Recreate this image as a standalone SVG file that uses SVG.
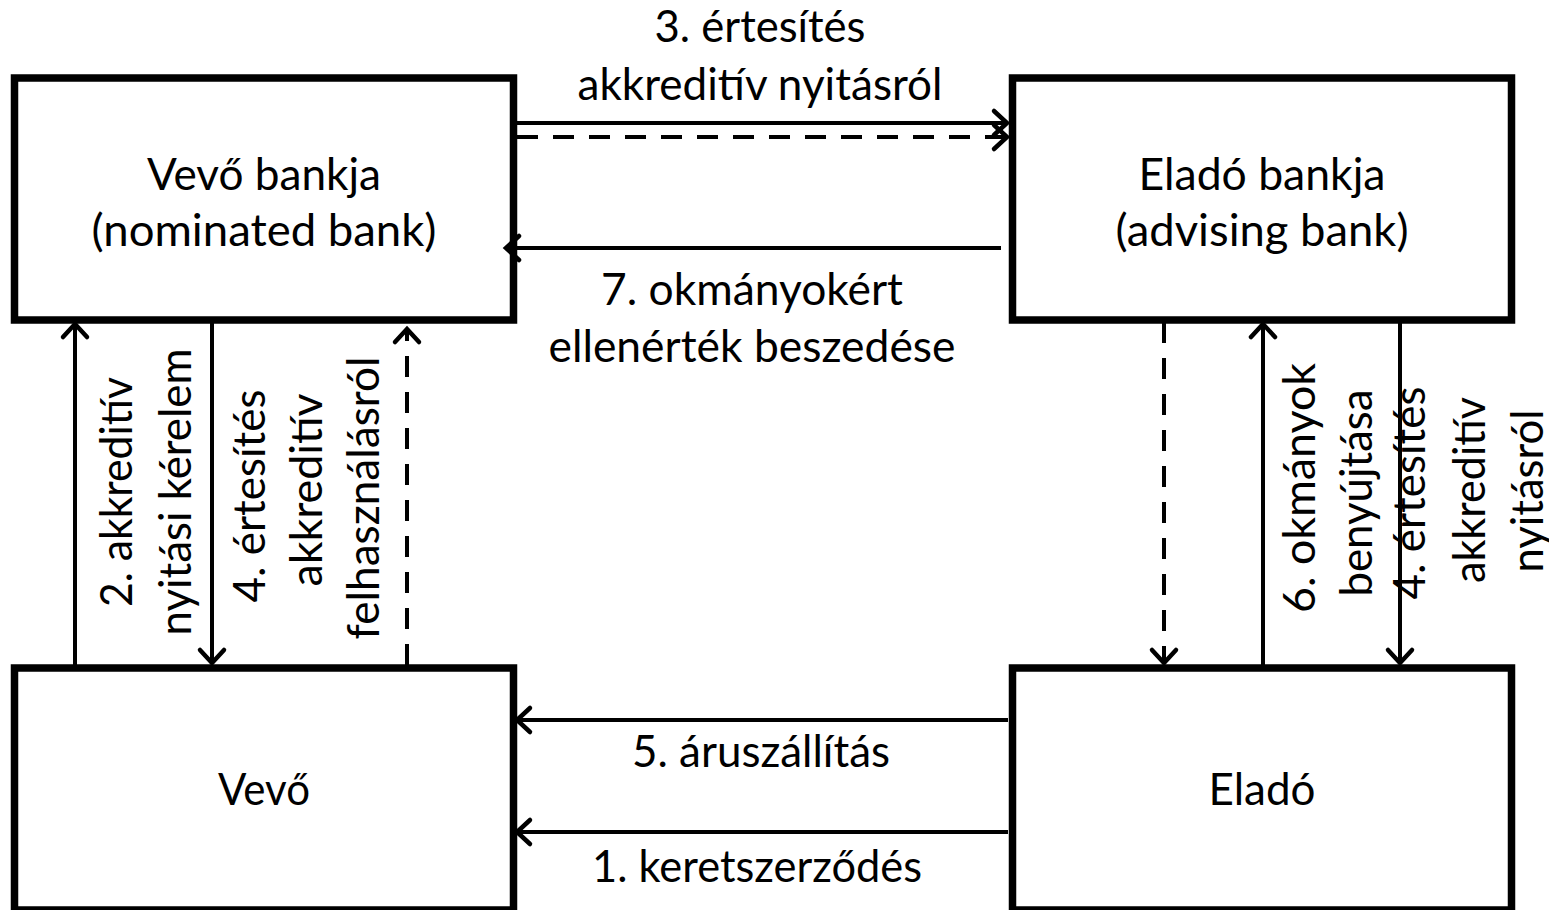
<svg xmlns="http://www.w3.org/2000/svg" width="1549" height="910" viewBox="0 0 1549 910">
  <style>
    .box { fill: #ffffff; stroke: #000000; stroke-width: 7.5; }
    .lbl { font-family: Lato, "Open Sans", "Liberation Sans", sans-serif; font-size: 44px; fill: #000000; text-anchor: middle; }
    .conn { fill: none; stroke: #000000; stroke-width: 4; }
    .dash { stroke-dasharray: 21 15; }
  </style>
  <defs>
    <marker id="head" markerUnits="userSpaceOnUse" viewBox="-18 -16 22 32" refX="0" refY="0" markerWidth="22" markerHeight="32" orient="auto" overflow="visible">
      <path d="M-13,-12 L0,0 L-13,12" fill="none" stroke="#000000" stroke-width="4.5" stroke-linecap="round" stroke-linejoin="miter"/>
    </marker>
  </defs>

  <!-- parties and banks -->
  <g id="node-vevo-bankja">
    <rect class="box" x="14.5" y="78" width="499" height="242"/>
    <text class="lbl" x="264" y="190" textLength="234" lengthAdjust="spacingAndGlyphs">Vevő bankja</text>
    <text class="lbl" x="264" y="246" textLength="345" lengthAdjust="spacingAndGlyphs">(nominated bank)</text>
  </g>
  <g id="node-elado-bankja">
    <rect class="box" x="1012.5" y="78" width="499" height="242"/>
    <text class="lbl" x="1262" y="190" textLength="247" lengthAdjust="spacingAndGlyphs">Eladó bankja</text>
    <text class="lbl" x="1262" y="246" textLength="293" lengthAdjust="spacingAndGlyphs">(advising bank)</text>
  </g>
  <g id="node-vevo">
    <rect class="box" x="14.5" y="668" width="499" height="242"/>
    <text class="lbl" x="264" y="805" textLength="92" lengthAdjust="spacingAndGlyphs">Vevő</text>
  </g>
  <g id="node-elado">
    <rect class="box" x="1012.5" y="668" width="499" height="242"/>
    <text class="lbl" x="1262" y="805" textLength="107" lengthAdjust="spacingAndGlyphs">Eladó</text>
  </g>

  <!-- flows between the parties -->
  <g id="connectors">
    <path class="conn" d="M517,123 L1007,123" marker-end="url(#head)"/>
    <path class="conn dash" d="M517,137 L1007,137" marker-end="url(#head)"/>
    <path class="conn" d="M1001,248 L506,248" marker-end="url(#head)"/>
    <path class="conn" d="M1008,720 L517,720" marker-end="url(#head)"/>
    <path class="conn" d="M1008,832 L517,832" marker-end="url(#head)"/>

    <path class="conn" d="M75,665 L75,324" marker-end="url(#head)"/>
    <path class="conn" d="M212,320 L212,663" marker-end="url(#head)"/>
    <path class="conn dash" d="M407,665 L407,329" marker-end="url(#head)"/>

    <path class="conn dash" d="M1164,322 L1164,663" marker-end="url(#head)"/>
    <path class="conn" d="M1263,665 L1263,324" marker-end="url(#head)"/>
    <path class="conn" d="M1400,320 L1400,663" marker-end="url(#head)"/>
  </g>

  <!-- connector labels -->
  <g id="labels">
    <text class="lbl" x="760" y="42" textLength="211" lengthAdjust="spacingAndGlyphs">3. értesítés</text>
    <text class="lbl" x="760" y="100" textLength="365" lengthAdjust="spacingAndGlyphs">akkreditív nyitásról</text>
    <text class="lbl" x="752" y="305" textLength="302" lengthAdjust="spacingAndGlyphs">7. okmányokért</text>
    <text class="lbl" x="752" y="362" textLength="407" lengthAdjust="spacingAndGlyphs">ellenérték beszedése</text>
    <text class="lbl" x="761" y="767" textLength="258" lengthAdjust="spacingAndGlyphs">5. áruszállítás</text>
    <text class="lbl" x="757" y="882" textLength="330" lengthAdjust="spacingAndGlyphs">1. keretszerződés</text>

    <text class="lbl" transform="translate(132,492) rotate(-90)" textLength="230" lengthAdjust="spacingAndGlyphs">2. akkreditív</text>
    <text class="lbl" transform="translate(191,492) rotate(-90)" textLength="287" lengthAdjust="spacingAndGlyphs">nyitási kérelem</text>

    <text class="lbl" transform="translate(265,496) rotate(-90)" textLength="213" lengthAdjust="spacingAndGlyphs">4. értesítés</text>
    <text class="lbl" transform="translate(322,490) rotate(-90)" textLength="193" lengthAdjust="spacingAndGlyphs">akkreditív</text>
    <text class="lbl" transform="translate(379,498) rotate(-90)" textLength="283" lengthAdjust="spacingAndGlyphs">felhasználásról</text>

    <text class="lbl" transform="translate(1315,488) rotate(-90)" textLength="250" lengthAdjust="spacingAndGlyphs">6. okmányok</text>
    <text class="lbl" transform="translate(1372,493) rotate(-90)" textLength="207" lengthAdjust="spacingAndGlyphs">benyújtása</text>

    <text class="lbl" transform="translate(1425,493) rotate(-90)" textLength="213" lengthAdjust="spacingAndGlyphs">4. értesítés</text>
    <text class="lbl" transform="translate(1485,490) rotate(-90)" textLength="186" lengthAdjust="spacingAndGlyphs">akkreditív</text>
    <text class="lbl" transform="translate(1543,491) rotate(-90)" textLength="163" lengthAdjust="spacingAndGlyphs">nyitásról</text>
  </g>
</svg>
